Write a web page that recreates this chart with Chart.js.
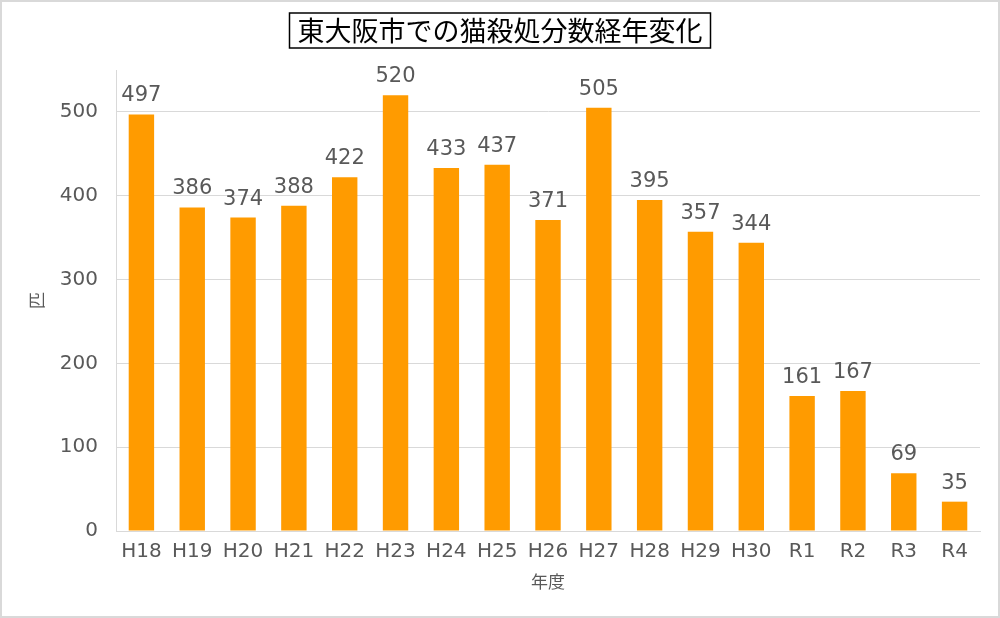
<!DOCTYPE html>
<html>
<head>
<meta charset="utf-8">
<script src="https://cdn.jsdelivr.net/npm/chart.js@4.4.1/dist/chart.umd.min.js"></script>
<style>
html,body{margin:0;padding:0;background:#fff;}
#wrap{width:1000px;height:618px;position:relative;}
</style>
</head>
<body>
<div id="wrap"><canvas id="c" width="1000" height="618"></canvas></div>
<script>
const titleText = '東大阪市での猫殺処分数経年変化';
const categories = ['H18','H19','H20','H21','H22','H23','H24','H25','H26','H27','H28','H29','H30','R1','R2','R3','R4'];
const values = [497,386,374,388,422,520,433,437,371,505,395,357,344,161,167,69,35];
const yTicks = [0,100,200,300,400,500];
const yTitle = '匹';
const xTitle = '年度';

const FONT = '"Noto Sans CJK JP", "Noto Sans", sans-serif';
const NUMFONT = '"DejaVu Sans", "Noto Sans CJK JP", sans-serif';
const TXT = '#595959';

const decor = {
  id: 'decor',
  beforeDraw(chart) {
    const ctx = chart.ctx;
    ctx.save();
    ctx.fillStyle = '#fff';
    ctx.fillRect(0, 0, chart.width, chart.height);
    ctx.restore();
  },
  afterDatasetsDraw(chart) {
    const ctx = chart.ctx;
    const meta = chart.getDatasetMeta(0);
    ctx.save();
    ctx.font = '21px ' + NUMFONT;
    ctx.fillStyle = TXT;
    ctx.textAlign = 'center';
    ctx.textBaseline = 'alphabetic';
    meta.data.forEach((bar, i) => {
      ctx.fillText(String(chart.data.datasets[0].data[i]), bar.x, bar.y - 13);
    });
    ctx.restore();
  },
  afterDraw(chart) {
    const ctx = chart.ctx;
    ctx.save();
    ctx.font = '27px ' + FONT;
    const w = ctx.measureText(titleText).width;
    const cx = chart.width / 2;
    ctx.strokeStyle = '#000';
    ctx.lineWidth = 1.5;
    ctx.strokeRect(cx - w / 2 - 8, 13, w + 16, 35);
    ctx.strokeStyle = '#d9d9d9';
    ctx.lineWidth = 2;
    ctx.strokeRect(1, 1, chart.width - 2, chart.height - 2);
    ctx.restore();
  }
};

new Chart(document.getElementById('c'), {
  type: 'bar',
  data: {
    labels: categories,
    datasets: [{
      data: values,
      backgroundColor: '#ff9b00',
      borderWidth: 0,
      barPercentage: 0.5,
      categoryPercentage: 1.0
    }]
  },
  options: {
    responsive: false,
    animation: false,
    devicePixelRatio: 1,
    layout: { padding: { left: 20, right: 20, top: 0, bottom: 0 } },
    plugins: {
      legend: { display: false },
      tooltip: { enabled: false },
      title: {
        display: true,
        text: titleText,
        color: '#000',
        font: { family: FONT, size: 27, weight: 'normal', lineHeight: 1.2 },
        padding: { top: 15, bottom: 22.6 }
      }
    },
    scales: {
      x: {
        grid: { display: false, drawTicks: false },
        border: { display: true, color: '#d9d9d9', width: 1 },
        ticks: { color: TXT, font: { family: NUMFONT, size: 20 }, padding: 9, maxRotation: 0, autoSkip: false },
        title: { display: true, text: xTitle, color: TXT, font: { family: FONT, size: 17 }, padding: { top: 0, bottom: 26 } },
        afterFit(scale) { scale.height = 87; }
      },
      y: {
        min: 0,
        max: 550,
        afterBuildTicks(scale) { scale.ticks = yTicks.map(v => ({ value: v })); },
        grid: { color: '#d9d9d9', lineWidth: 1, drawTicks: false },
        border: { display: true, color: '#d9d9d9', width: 1 },
        ticks: { color: TXT, font: { family: NUMFONT, size: 20 }, padding: 18 },
        title: { display: true, text: yTitle, color: TXT, font: { family: FONT, size: 17 }, padding: { top: 6, bottom: 0 } },
        afterFit(scale) { scale.width = 96; }
      }
    }
  },
  plugins: [decor]
});
</script>
</body>
</html>
